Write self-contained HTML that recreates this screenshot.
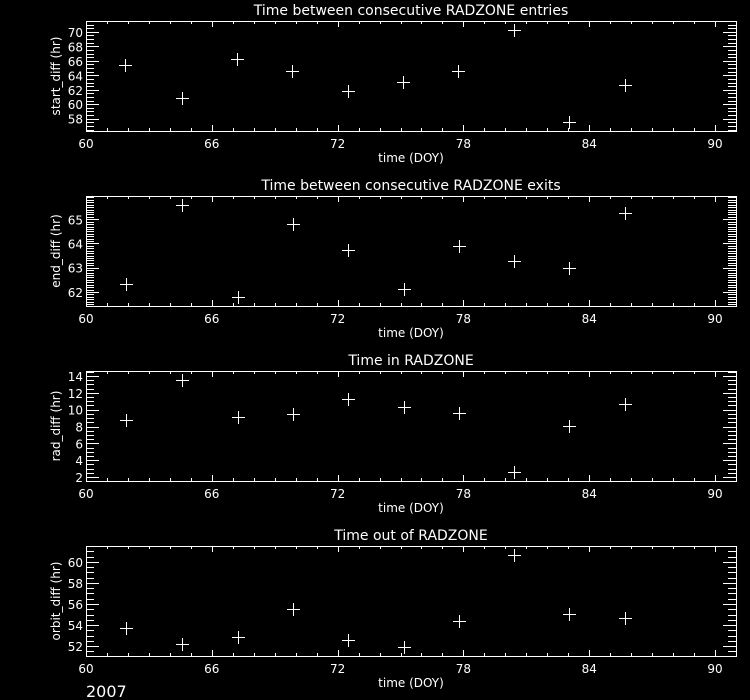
<!DOCTYPE html>
<html><head><style>
html,body{margin:0;padding:0;background:#000;}
svg{display:block;}
text{font-family:"DejaVu Sans","Liberation Sans",sans-serif;fill:#fff;}
</style></head><body>
<svg id="s" width="750" height="700" viewBox="0 0 750 700" xmlns="http://www.w3.org/2000/svg"></svg>
<script>
const s=document.getElementById('s');
let h='';
const X0=86,X1=736,xs=(650)/31;
const px=v=>X0+(v-60)*xs;
const panels=[
 {top:21,title:'Time between consecutive RADZONE entries',yl:'start_diff (hr)',ymin:56.3,ymax:71.5,maj:2,min:0.5,labs:[58,60,62,64,66,68,70],
  pts:[[125,65],[182,98],[237,59],[292,71],[348,91],[403,82],[458,71],[514,30],[569,122],[625,85]]},
 {top:196,title:'Time between consecutive RADZONE exits',yl:'end_diff (hr)',ymin:61.42,ymax:65.96,maj:1,min:0.1,labs:[62,63,64,65],
  pts:[[126,284],[182,205],[238,297],[293,224],[348,250],[404,289],[459,246],[514,261],[569,268],[625,213]]},
 {top:371,title:'Time in RADZONE',yl:'rad_diff (hr)',ymin:1.52,ymax:14.6,maj:2,min:0.5,labs:[2,4,6,8,10,12,14],
  pts:[[126,420],[182,380],[238,417],[293,414],[348,399],[404,407],[459,413],[514,472],[569,426],[625,404]]},
 {top:546,title:'Time out of RADZONE',yl:'orbit_diff (hr)',ymin:51.05,ymax:61.52,maj:2,min:0.5,labs:[52,54,56,58,60],
  pts:[[126,628],[182,644],[238,637],[293,609],[348,640],[404,647],[459,621],[514,555],[569,614],[625,618]]}
];
for(const p of panels){
 const T=p.top,B=T+110;
 const py=v=>B-(v-p.ymin)/(p.ymax-p.ymin)*110;
 h+=`<rect x="${X0}.5" y="${T}.5" width="${X1-X0}" height="110" fill="none" stroke="#fff" stroke-width="1"/>`;
 h+=`<text x="411" y="${T-6}" font-size="14" text-anchor="middle">${p.title}</text>`;
 for(let v=61;v<=91;v++){const x=(Math.round(px(v))+0.5);const L=(v%6==0)?6:3;
  h+=`<line x1="${x}" y1="${B}" x2="${x}" y2="${B-L}" stroke="#fff"/><line x1="${x}" y1="${T}" x2="${x}" y2="${T+L}" stroke="#fff"/>`;}
 for(let v=60;v<=90;v+=6)h+=`<text x="${px(v)}" y="${B+17}" font-size="12" text-anchor="middle">${v}</text>`;
 h+=`<text x="411" y="${B+31}" font-size="12" text-anchor="middle">time (DOY)</text>`;
 const n0=Math.ceil(p.ymin/p.min-1e-6),n1=Math.floor(p.ymax/p.min+1e-6);
 for(let i=n0;i<=n1;i++){const v=i*p.min;const y=Math.round(py(v))+0.5;
  const isMaj=Math.abs(v/p.maj-Math.round(v/p.maj))<1e-6;const L=isMaj?13:8;
  h+=`<line x1="${X0}" y1="${y}" x2="${X0+L}" y2="${y}" stroke="#fff"/><line x1="${X1}" y1="${y}" x2="${X1-L}" y2="${y}" stroke="#fff"/>`;}
 for(const v of p.labs)h+=`<text x="${X0-3}" y="${py(v)+5}" font-size="12" text-anchor="end">${v}</text>`;
 h+=`<text transform="translate(60,${T+55}) rotate(-90)" font-size="12" text-anchor="middle">${p.yl}</text>`;
 for(const [x,y] of p.pts)h+=`<path d="M${x-6} ${y+0.5}H${x+7}M${x+0.5} ${y-6}V${y+7}" stroke="#fff" stroke-width="1"/>`;
}
h+=`<text x="86" y="697" font-size="16">2007</text>`;
s.innerHTML=h;
</script>
</body></html>
